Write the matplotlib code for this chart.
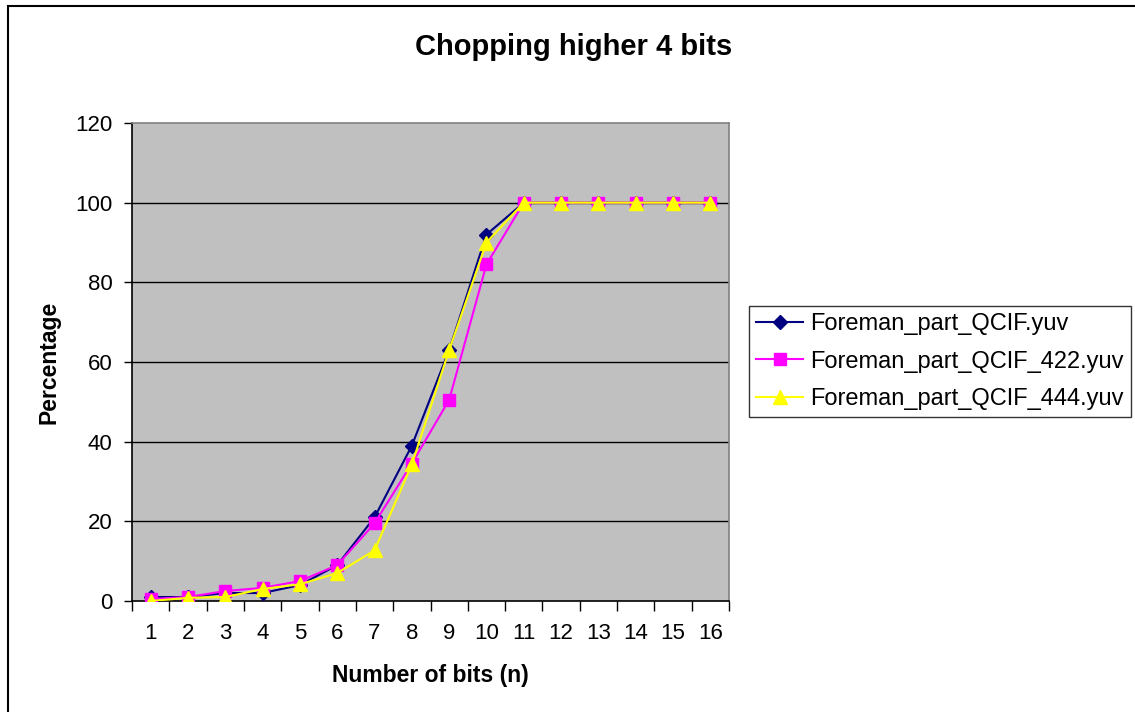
import numpy as np
import matplotlib
matplotlib.use('Agg')
import matplotlib.pyplot as plt
from matplotlib.patches import Rectangle

plt.rcParams['font.family'] = ['Liberation Sans', 'DejaVu Sans']

bits = list(range(1, 17))
qcif = [1, 1, 2, 2, 4, 9, 21, 39, 63, 92, 100, 100, 100, 100, 100, 100]
qcif_422 = [0.5, 1, 2.5, 3.3, 5, 9, 19.5, 34.5, 50.5, 84.5, 100, 100, 100, 100, 100, 100]
qcif_444 = [0, 0.8, 1, 3, 4.2, 7, 12.7, 34.3, 63, 90, 100, 100, 100, 100, 100, 100]
names = ['Foreman_part_QCIF.yuv', 'Foreman_part_QCIF_422.yuv', 'Foreman_part_QCIF_444.yuv']

W, H = 1135, 712
fig = plt.figure(figsize=(W/100, H/100), dpi=100)
fig.patch.set_facecolor('white')

# chart border (runs off the right/bottom edge)
fig.patches.append(Rectangle((8/W, -0.1), 1.2, 1.1 - 6/H, transform=fig.transFigure,
                             fill=False, edgecolor='black', linewidth=1.5))

ax = fig.add_axes([132/W, 1 - 601/H, (729-132)/W, (601-123)/H])
ax.set_facecolor('#C0C0C0')

ax.plot(bits, qcif, color='#000080', marker='D', markersize=7.5, linewidth=1.5, label=names[0], zorder=3)
ax.plot(bits, qcif_422, color='#FF00FF', marker='s', markersize=8, linewidth=1.5, label=names[1], zorder=4)
ax.plot(bits, qcif_444, color='#FFFF00', marker='^', markersize=10, linewidth=1.5, label=names[2], zorder=5)

ax.set_xlim(0.5, 16.5)
ax.set_ylim(0, 120)
ax.set_yticks(np.arange(0, 121, 20))
for y in range(20, 101, 20):
    ax.axhline(y, color='black', linewidth=1.0, zorder=1)

# category ticks sit between the categories, labels in the middle
ax.set_xticks(np.arange(0.5, 17, 1))
ax.set_xticklabels([])
ax.set_xticks(bits, minor=True)
ax.set_xticklabels([str(b) for b in bits], minor=True)
ax.tick_params(axis='x', which='major', length=7, width=1, direction='out', color='black')
ax.tick_params(axis='x', which='minor', length=0, labelsize=16, pad=16)
ax.tick_params(axis='y', length=6, width=1, direction='out', labelsize=16, pad=8, color='black')

for side in ['top', 'right']:
    ax.spines[side].set_color('#808080')
for side in ['left', 'bottom']:
    ax.spines[side].set_color('black')
for s in ax.spines.values():
    s.set_linewidth(1.2)

ax.set_xlabel('Number of bits (n)', fontsize=16.5, fontweight='bold', labelpad=14)
ax.set_ylabel('Percentage', fontsize=16.5, fontweight='bold', labelpad=11)
fig.text(574/W, 1 - 47/H, 'Chopping higher 4 bits', fontsize=21, fontweight='bold',
         ha='center', va='center')

leg = ax.legend(loc='upper left', bbox_to_anchor=(749/W, 1 - 306/H), bbox_transform=fig.transFigure,
                fontsize=17, frameon=True, fancybox=False, borderaxespad=0, handlelength=2.0,
                borderpad=0.3, labelspacing=0.66, handletextpad=0.3)
leg.get_frame().set_edgecolor('black')
leg.get_frame().set_linewidth(1.0)

fig.savefig('out.png', dpi=100)
